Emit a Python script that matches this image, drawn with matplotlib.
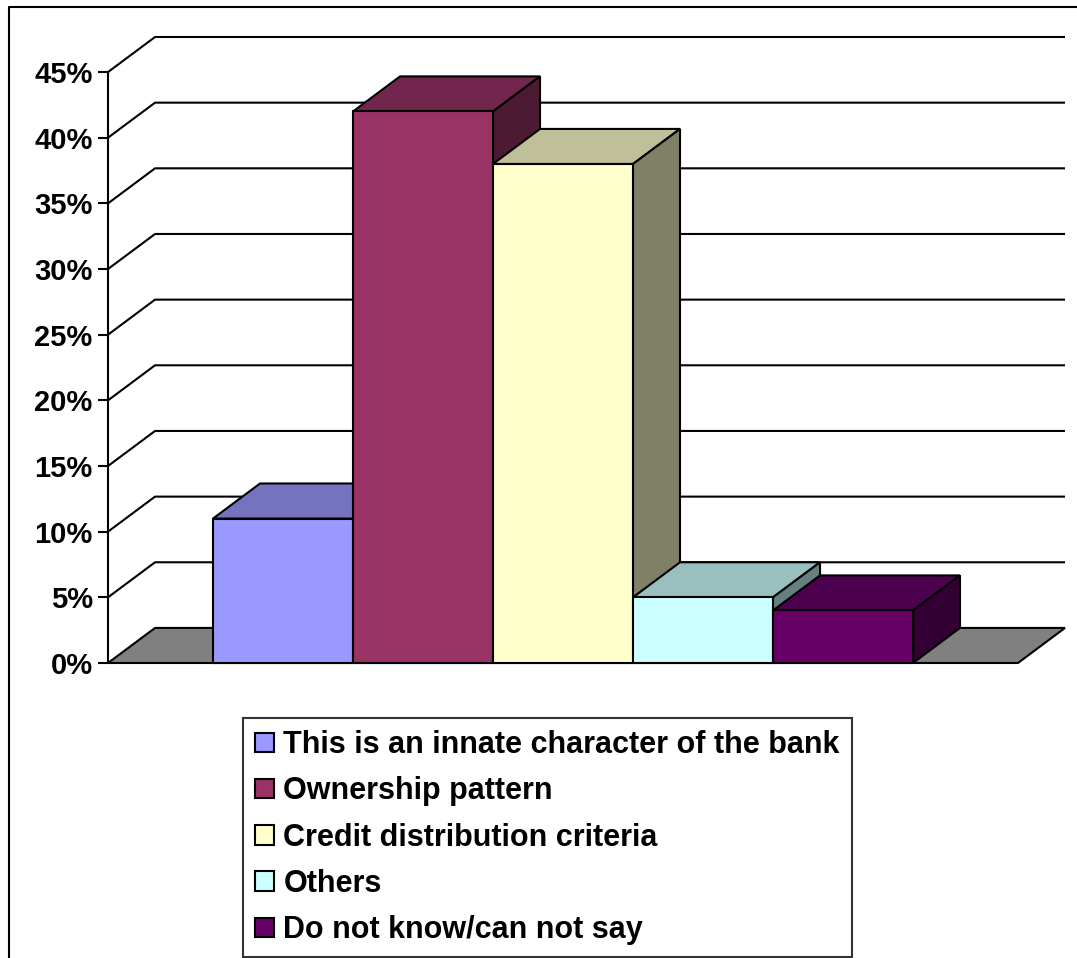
import matplotlib
matplotlib.use('Agg')
import matplotlib.pyplot as plt
from matplotlib.patches import Polygon, Patch
from matplotlib.lines import Line2D
from matplotlib.ticker import PercentFormatter

categories = ['This is an innate character of the bank', 'Ownership pattern',
              'Credit distribution criteria', 'Others', 'Do not know/can not say']
values = [11, 42, 38, 5, 4]
front_colors = ['#9999FF', '#993366', '#FFFFCC', '#CCFFFF', '#660066']
top_colors = ['#7373BF', '#73264D', '#BFBF99', '#99BFBF', '#4D004D']
side_colors = ['#4D4D80', '#4D1A33', '#808066', '#668080', '#330033']
yticks = [0, 5, 10, 15, 20, 25, 30, 35, 40, 45]

plt.rcParams['font.family'] = ['Liberation Sans', 'DejaVu Sans']
plt.rcParams['font.weight'] = 'bold'

W, H = 1077, 958
fig = plt.figure(figsize=(W / 100, H / 100), dpi=100)

# 3d offset of the back wall, in data units
dx = 0.336
dy = 2.67
x0, x1 = -1.25, 5.25

# axes placed in pixels: x from 108 to 1065, y from 663 (0%) up to 37
ax = fig.add_axes([108 / W, (H - 663) / H, (1065 - 108) / W, (663 - 37) / H])
ax.set_xlim(x0, x1 + dx)
ax.set_ylim(0, 45 + dy)

lw = 1.5
# gridlines on back wall with diagonal from axis
for v in yticks[1:]:
    ax.plot([x0, x0 + dx, x1 + dx], [v, v + dy, v + dy], color='black', lw=lw,
            zorder=1, clip_on=False, solid_capstyle='butt')

# floor
ax.add_patch(Polygon([(x0, 0), (x0 + dx, dy), (x1 + dx, dy), (x1, 0)], closed=True,
                     facecolor='#808080', edgecolor='black', lw=lw, zorder=2, clip_on=False))

xs = list(range(len(values)))
for i, (x, v) in enumerate(zip(xs, values)):
    z = 3 + i
    ax.bar(x, v, width=1.0, color=front_colors[i], edgecolor='black', lw=lw, zorder=z + 0.5,
           clip_on=False)
    ax.add_patch(Polygon([(x - 0.5, v), (x - 0.5 + dx, v + dy), (x + 0.5 + dx, v + dy), (x + 0.5, v)],
                         closed=True, facecolor=top_colors[i], edgecolor='black', lw=lw, zorder=z,
                         clip_on=False))
    ax.add_patch(Polygon([(x + 0.5, 0), (x + 0.5, v), (x + 0.5 + dx, v + dy), (x + 0.5 + dx, dy)],
                         closed=True, facecolor=side_colors[i], edgecolor='black', lw=lw, zorder=z,
                         clip_on=False))

for s in ['top', 'right', 'bottom']:
    ax.spines[s].set_visible(False)
ax.spines['left'].set_bounds(0, 45)
ax.spines['left'].set_linewidth(lw)
ax.spines['left'].set_zorder(10)
ax.set_xticks([])
ax.set_yticks(yticks)
ax.yaxis.set_major_formatter(PercentFormatter(decimals=0))
ax.tick_params(axis='y', length=7, width=lw, pad=4, labelsize=21)
for t in ax.get_yticklabels():
    t.set_fontweight('bold')
ax.patch.set_visible(False)

handles = [Patch(facecolor=c, edgecolor='black', lw=1.5) for c in front_colors]
leg = fig.legend(handles, categories, loc='upper left',
                 bbox_to_anchor=(243 / W, (H - 718) / H), frameon=True, fancybox=False,
                 prop={'size': 22, 'weight': 'bold'}, handlelength=0.6, handleheight=0.6,
                 handletextpad=0.32, labelspacing=0.53, borderpad=0.4, borderaxespad=0)
leg.get_frame().set_edgecolor('black')
leg.get_frame().set_linewidth(1.5)

# outer chart border (cut by the image edges on the right and bottom)
fig.add_artist(Line2D([9 / W, 9 / W, 1.0], [0.0, (H - 7) / H, (H - 7) / H],
                      transform=fig.transFigure, color='black', lw=1.5))

fig.savefig('out.png', dpi=100)
